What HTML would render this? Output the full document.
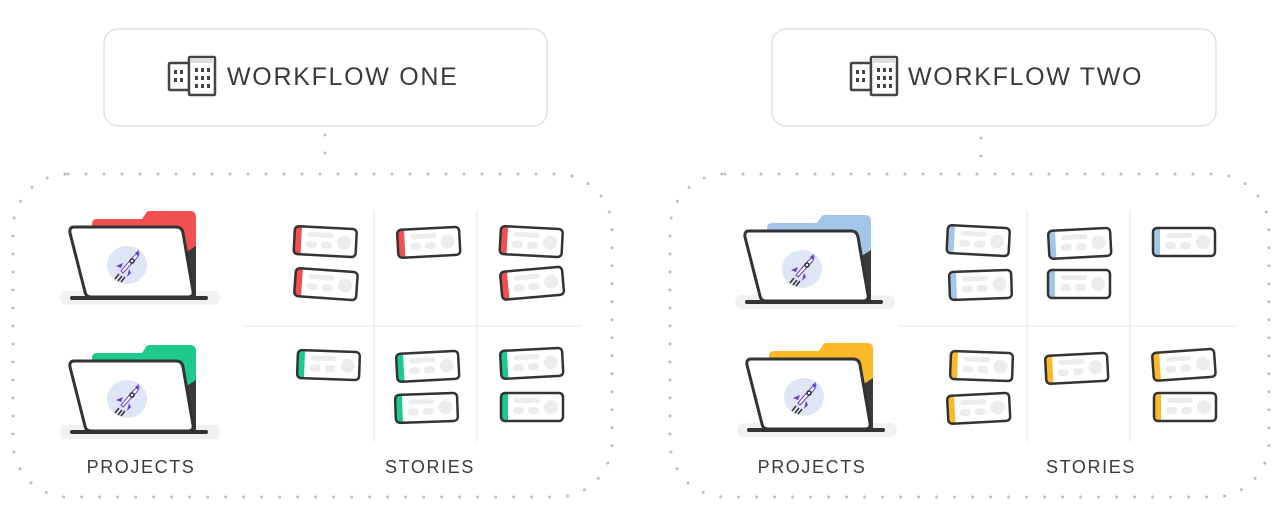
<!DOCTYPE html>
<html><head><meta charset="utf-8"><style>
html,body{margin:0;padding:0;background:#fff;}
svg{display:block}
text{font-family:"Liberation Sans",sans-serif;fill:#3a3a3a}
</style></head><body>
<svg width="1282" height="522" viewBox="0 0 1282 522" xmlns="http://www.w3.org/2000/svg">
<defs>
<g id="rocket">
  <ellipse cx="0" cy="0" rx="20" ry="19" fill="#dde5f6"/>
  <path d="M-6,6 L6,-8 Q10,-12 12,-12 Q12,-9 8,-5 L-4,8 Z" fill="#fff" stroke="#6a3fd0" stroke-width="1"/>
  <circle cx="5" cy="-4" r="2" fill="none" stroke="#333" stroke-width="1.5"/>
  <path d="M-4,-2 L-11,1 L-6,3 Z M2,4 L0,12 L4,8 Z M8,-12 L12,-15 L11,-9 Z" fill="#6a3fd0"/>
  <path d="M-8,9 L-12,14 M-5,11 L-9,16 M-2,12 L-6,17" stroke="#333" stroke-width="1.5"/>
</g>
<g id="card">
  <rect x="0" y="0" width="62" height="28" rx="4" fill="#fff"/>
  <rect x="13" y="5" width="26" height="5" rx="2.5" fill="#ececec"/>
  <rect x="12" y="14" width="11" height="7" rx="3.5" fill="#ececec"/>
  <rect x="27" y="14" width="11" height="7" rx="3.5" fill="#ececec"/>
  <circle cx="50" cy="14" r="7" fill="#ececec"/>
</g>
</defs>

<rect x="104" y="29" width="443" height="97" rx="14" fill="#fff" stroke="#e2e2e2" stroke-width="1.5"/>
<rect x="772" y="29" width="444" height="97" rx="14" fill="#fff" stroke="#e2e2e2" stroke-width="1.5"/>

<g id="bld" transform="translate(169,56)" fill="none" stroke="#444" stroke-width="2.5">
  <rect x="0" y="7" width="20" height="27" rx="1"/>
  <rect x="20" y="1" width="26" height="38" rx="1" fill="#fff"/>
  <rect x="21" y="2" width="24" height="5" fill="#ddd" stroke="none"/>
  <g stroke="none" fill="#444">
    <rect x="5" y="14" width="3" height="4"/><rect x="11" y="14" width="3" height="4"/>
    <rect x="5" y="22" width="3" height="4"/><rect x="11" y="22" width="3" height="4"/>
    <rect x="26" y="12" width="3" height="4"/><rect x="32" y="12" width="3" height="4"/><rect x="38" y="12" width="3" height="4"/>
    <rect x="26" y="20" width="3" height="4"/><rect x="32" y="20" width="3" height="4"/><rect x="38" y="20" width="3" height="4"/>
    <rect x="26" y="28" width="3" height="4"/><rect x="32" y="28" width="3" height="4"/><rect x="38" y="28" width="3" height="4"/>
  </g>
</g>
<use href="#bld" transform="translate(682,0)"/>
<text x="227" y="85" font-size="25" letter-spacing="1.7">WORKFLOW ONE</text>
<text x="908" y="85" font-size="25" letter-spacing="1.7">WORKFLOW TWO</text>

<g fill="none" stroke="#bdbdbd" stroke-width="3" stroke-linecap="round" stroke-dasharray="0 18">
  <line x1="325" y1="135" x2="325" y2="160"/>
  <line x1="981" y1="138" x2="981" y2="162"/>
  <rect x="13" y="174" width="599" height="323" rx="55"/>
  <rect x="670" y="174" width="599" height="323" rx="55"/>
</g>

<g stroke="#ededed" stroke-width="1.5">
  <line x1="374" y1="210" x2="374" y2="442"/><line x1="477" y1="210" x2="477" y2="442"/>
  <line x1="244" y1="326" x2="582" y2="326"/>
  <line x1="1027" y1="210" x2="1027" y2="442"/><line x1="1130" y1="210" x2="1130" y2="442"/>
  <line x1="898" y1="326" x2="1236" y2="326"/>
</g>

<g transform="translate(60,210)">
  <rect x="0" y="81" width="160" height="14" rx="7" fill="#f1f1f1"/>
  <path d="M32,14 Q32,9 37,9 L82,9 L86,3 Q87,1 90,1 L130,1 Q136,1 136,7 L136,80 L40,80 Z" fill="#f0504f"/>
  <polygon points="122,45 136,36 136,87 131,87" fill="#3a3a3a"/>
  <path d="M14,17 L116,17 Q122,17 123,23 L133,81 Q134,87 128,87 L31,87 Q26,87 25,82 L10,23 Q9,17 14,17 Z" fill="#fff" stroke="#333" stroke-width="3"/>
  <line x1="12" y1="88" x2="146" y2="88" stroke="#333" stroke-width="4" stroke-linecap="round"/>
  <use href="#rocket" transform="translate(67,55)"/>
</g>
<g transform="translate(60,344)">
  <rect x="0" y="81" width="160" height="14" rx="7" fill="#f1f1f1"/>
  <path d="M32,14 Q32,9 37,9 L82,9 L86,3 Q87,1 90,1 L130,1 Q136,1 136,7 L136,80 L40,80 Z" fill="#1dc98b"/>
  <polygon points="122,45 136,36 136,87 131,87" fill="#3a3a3a"/>
  <path d="M14,17 L116,17 Q122,17 123,23 L133,81 Q134,87 128,87 L31,87 Q26,87 25,82 L10,23 Q9,17 14,17 Z" fill="#fff" stroke="#333" stroke-width="3"/>
  <line x1="12" y1="88" x2="146" y2="88" stroke="#333" stroke-width="4" stroke-linecap="round"/>
  <use href="#rocket" transform="translate(67,55)"/>
</g>
<g transform="translate(735,214)">
  <rect x="0" y="81" width="160" height="14" rx="7" fill="#f1f1f1"/>
  <path d="M32,14 Q32,9 37,9 L82,9 L86,3 Q87,1 90,1 L130,1 Q136,1 136,7 L136,80 L40,80 Z" fill="#a4c5ea"/>
  <polygon points="122,45 136,36 136,87 131,87" fill="#3a3a3a"/>
  <path d="M14,17 L116,17 Q122,17 123,23 L133,81 Q134,87 128,87 L31,87 Q26,87 25,82 L10,23 Q9,17 14,17 Z" fill="#fff" stroke="#333" stroke-width="3"/>
  <line x1="12" y1="88" x2="146" y2="88" stroke="#333" stroke-width="4" stroke-linecap="round"/>
  <use href="#rocket" transform="translate(67,55)"/>
</g>
<g transform="translate(737,342)">
  <rect x="0" y="81" width="160" height="14" rx="7" fill="#f1f1f1"/>
  <path d="M32,14 Q32,9 37,9 L82,9 L86,3 Q87,1 90,1 L130,1 Q136,1 136,7 L136,80 L40,80 Z" fill="#fbb829"/>
  <polygon points="122,45 136,36 136,87 131,87" fill="#3a3a3a"/>
  <path d="M14,17 L116,17 Q122,17 123,23 L133,81 Q134,87 128,87 L31,87 Q26,87 25,82 L10,23 Q9,17 14,17 Z" fill="#fff" stroke="#333" stroke-width="3"/>
  <line x1="12" y1="88" x2="146" y2="88" stroke="#333" stroke-width="4" stroke-linecap="round"/>
  <use href="#rocket" transform="translate(67,55)"/>
</g>

<g>
<g transform="translate(295,226) rotate(3)"><use href="#card"/><path d="M4,0 L7,0 L7,28 L4,28 Q0,28 0,24 L0,4 Q0,0 4,0Z" fill="#f0504f"/><rect x="0" y="0" width="62" height="28" rx="4" fill="none" stroke="#333" stroke-width="2.5"/></g>
<g transform="translate(296,268) rotate(4)"><use href="#card"/><path d="M4,0 L7,0 L7,28 L4,28 Q0,28 0,24 L0,4 Q0,0 4,0Z" fill="#f0504f"/><rect x="0" y="0" width="62" height="28" rx="4" fill="none" stroke="#333" stroke-width="2.5"/></g>
<g transform="translate(397,230) rotate(-3)"><use href="#card"/><path d="M4,0 L7,0 L7,28 L4,28 Q0,28 0,24 L0,4 Q0,0 4,0Z" fill="#f0504f"/><rect x="0" y="0" width="62" height="28" rx="4" fill="none" stroke="#333" stroke-width="2.5"/></g>
<g transform="translate(501,226) rotate(3)"><use href="#card"/><path d="M4,0 L7,0 L7,28 L4,28 Q0,28 0,24 L0,4 Q0,0 4,0Z" fill="#f0504f"/><rect x="0" y="0" width="62" height="28" rx="4" fill="none" stroke="#333" stroke-width="2.5"/></g>
<g transform="translate(500,272) rotate(-5)"><use href="#card"/><path d="M4,0 L7,0 L7,28 L4,28 Q0,28 0,24 L0,4 Q0,0 4,0Z" fill="#f0504f"/><rect x="0" y="0" width="62" height="28" rx="4" fill="none" stroke="#333" stroke-width="2.5"/></g>
<g transform="translate(298,350) rotate(2)"><use href="#card"/><path d="M4,0 L7,0 L7,28 L4,28 Q0,28 0,24 L0,4 Q0,0 4,0Z" fill="#1dc98b"/><rect x="0" y="0" width="62" height="28" rx="4" fill="none" stroke="#333" stroke-width="2.5"/></g>
<g transform="translate(396,354) rotate(-3)"><use href="#card"/><path d="M4,0 L7,0 L7,28 L4,28 Q0,28 0,24 L0,4 Q0,0 4,0Z" fill="#1dc98b"/><rect x="0" y="0" width="62" height="28" rx="4" fill="none" stroke="#333" stroke-width="2.5"/></g>
<g transform="translate(395,395) rotate(-2)"><use href="#card"/><path d="M4,0 L7,0 L7,28 L4,28 Q0,28 0,24 L0,4 Q0,0 4,0Z" fill="#1dc98b"/><rect x="0" y="0" width="62" height="28" rx="4" fill="none" stroke="#333" stroke-width="2.5"/></g>
<g transform="translate(500,351) rotate(-3)"><use href="#card"/><path d="M4,0 L7,0 L7,28 L4,28 Q0,28 0,24 L0,4 Q0,0 4,0Z" fill="#1dc98b"/><rect x="0" y="0" width="62" height="28" rx="4" fill="none" stroke="#333" stroke-width="2.5"/></g>
<g transform="translate(501,393)"><use href="#card"/><path d="M4,0 L7,0 L7,28 L4,28 Q0,28 0,24 L0,4 Q0,0 4,0Z" fill="#1dc98b"/><rect x="0" y="0" width="62" height="28" rx="4" fill="none" stroke="#333" stroke-width="2.5"/></g>
<g transform="translate(948,225) rotate(3)"><use href="#card"/><path d="M4,0 L7,0 L7,28 L4,28 Q0,28 0,24 L0,4 Q0,0 4,0Z" fill="#a4c5ea"/><rect x="0" y="0" width="62" height="28" rx="4" fill="none" stroke="#333" stroke-width="2.5"/></g>
<g transform="translate(949,272) rotate(-2)"><use href="#card"/><path d="M4,0 L7,0 L7,28 L4,28 Q0,28 0,24 L0,4 Q0,0 4,0Z" fill="#a4c5ea"/><rect x="0" y="0" width="62" height="28" rx="4" fill="none" stroke="#333" stroke-width="2.5"/></g>
<g transform="translate(1048,231) rotate(-3)"><use href="#card"/><path d="M4,0 L7,0 L7,28 L4,28 Q0,28 0,24 L0,4 Q0,0 4,0Z" fill="#a4c5ea"/><rect x="0" y="0" width="62" height="28" rx="4" fill="none" stroke="#333" stroke-width="2.5"/></g>
<g transform="translate(1048,270)"><use href="#card"/><path d="M4,0 L7,0 L7,28 L4,28 Q0,28 0,24 L0,4 Q0,0 4,0Z" fill="#a4c5ea"/><rect x="0" y="0" width="62" height="28" rx="4" fill="none" stroke="#333" stroke-width="2.5"/></g>
<g transform="translate(1153,228)"><use href="#card"/><path d="M4,0 L7,0 L7,28 L4,28 Q0,28 0,24 L0,4 Q0,0 4,0Z" fill="#a4c5ea"/><rect x="0" y="0" width="62" height="28" rx="4" fill="none" stroke="#333" stroke-width="2.5"/></g>
<g transform="translate(951,351) rotate(2)"><use href="#card"/><path d="M4,0 L7,0 L7,28 L4,28 Q0,28 0,24 L0,4 Q0,0 4,0Z" fill="#fbb829"/><rect x="0" y="0" width="62" height="28" rx="4" fill="none" stroke="#333" stroke-width="2.5"/></g>
<g transform="translate(947,396) rotate(-3)"><use href="#card"/><path d="M4,0 L7,0 L7,28 L4,28 Q0,28 0,24 L0,4 Q0,0 4,0Z" fill="#fbb829"/><rect x="0" y="0" width="62" height="28" rx="4" fill="none" stroke="#333" stroke-width="2.5"/></g>
<g transform="translate(1045,356) rotate(-3)"><use href="#card"/><path d="M4,0 L7,0 L7,28 L4,28 Q0,28 0,24 L0,4 Q0,0 4,0Z" fill="#fbb829"/><rect x="0" y="0" width="62" height="28" rx="4" fill="none" stroke="#333" stroke-width="2.5"/></g>
<g transform="translate(1152,353) rotate(-4)"><use href="#card"/><path d="M4,0 L7,0 L7,28 L4,28 Q0,28 0,24 L0,4 Q0,0 4,0Z" fill="#fbb829"/><rect x="0" y="0" width="62" height="28" rx="4" fill="none" stroke="#333" stroke-width="2.5"/></g>
<g transform="translate(1154,393)"><use href="#card"/><path d="M4,0 L7,0 L7,28 L4,28 Q0,28 0,24 L0,4 Q0,0 4,0Z" fill="#fbb829"/><rect x="0" y="0" width="62" height="28" rx="4" fill="none" stroke="#333" stroke-width="2.5"/></g>
</g>

<text x="141" y="473" font-size="18" letter-spacing="1.6" text-anchor="middle">PROJECTS</text>
<text x="430" y="473" font-size="18" letter-spacing="1.6" text-anchor="middle">STORIES</text>
<text x="812" y="473" font-size="18" letter-spacing="1.6" text-anchor="middle">PROJECTS</text>
<text x="1091" y="473" font-size="18" letter-spacing="1.6" text-anchor="middle">STORIES</text>
</svg>
</body></html>
